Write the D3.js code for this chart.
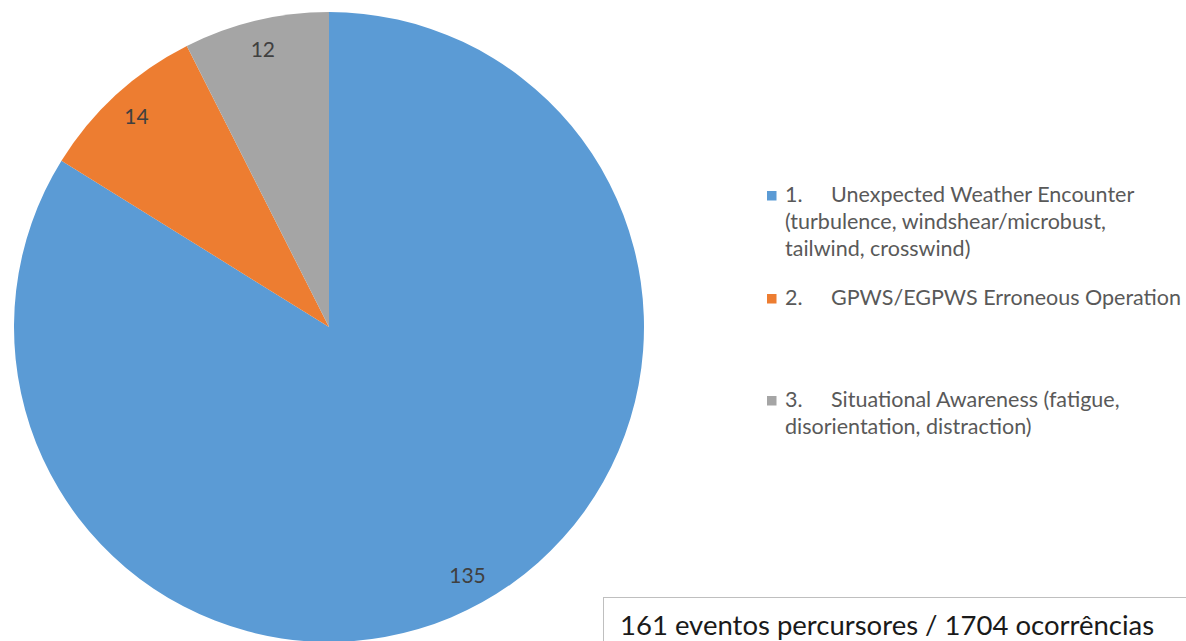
<!DOCTYPE html>
<html>
<head>
<meta charset="utf-8">
<script src="https://cdn.jsdelivr.net/npm/d3@7"></script>
<style>
  body { margin: 0; background: #fff; }
  svg { display: block; font-family: Lato, "Liberation Sans", sans-serif; }
</style>
</head>
<body>
<svg width="1186" height="641"></svg>
<script>
// slice data, clockwise from 12 o'clock
const categories = ["1.", "2.", "3."];
const values = [135, 14, 12];
const colors = ["#5B9BD5", "#ED7D31", "#A5A5A5"];
// legend text, one array of lines per entry
const legendLines = [
  ["Unexpected Weather Encounter", "(turbulence, windshear/microbust,", "tailwind, crosswind)"],
  ["GPWS/EGPWS Erroneous Operation"],
  ["Situational Awareness (fatigue,", "disorientation, distraction)"]
];
const noteText = "161 eventos percursores / 1704 ocorrências";

const svg = d3.select("svg");
const cx = 329, cy = 327, radius = 315;

const pie = d3.pie().sort(null).value(d => d);
const arcs = pie(values);

const arc = d3.arc().innerRadius(0).outerRadius(radius);
const labelArc = d3.arc().innerRadius(285).outerRadius(285);

const chart = svg.append("g")
  .attr("transform", `translate(${cx}, ${cy})`);

chart.selectAll("path")
  .data(arcs)
  .enter()
  .append("path")
  .attr("d", arc)
  .attr("fill", (d, i) => colors[i]);

chart.selectAll("text.label")
  .data(arcs)
  .enter()
  .append("text")
  .attr("class", "label")
  .attr("transform", d => `translate(${labelArc.centroid(d)})`)
  .attr("text-anchor", "middle")
  .attr("dy", "0.35em")
  .attr("fill", "#404040")
  .style("font-size", "21px")
  .text(d => d.data);

// legend
const legendY = [202, 305, 407];
const lineGap = 27;
const legend = svg.append("g");

legendLines.forEach((lines, i) => {
  legend.append("rect")
    .attr("x", 767)
    .attr("y", legendY[i] - 11)
    .attr("width", 9.5)
    .attr("height", 9.5)
    .attr("fill", colors[i]);
  const t = legend.append("text")
    .attr("fill", "#595959")
    .style("font-size", "21.5px");
  t.append("tspan")
    .attr("x", 785)
    .attr("y", legendY[i])
    .text(categories[i]);
  lines.forEach((line, j) => {
    t.append("tspan")
      .attr("x", j === 0 ? 831 : 785)
      .attr("y", legendY[i] + j * lineGap)
      .text(line);
  });
});

// note box
svg.append("rect")
  .attr("x", 603.5)
  .attr("y", 597.5)
  .attr("width", 600)
  .attr("height", 60)
  .attr("fill", "#fff")
  .attr("stroke", "#bfbfbf")
  .attr("stroke-width", 1);

svg.append("text")
  .attr("x", 620)
  .attr("y", 635)
  .attr("fill", "#1a1a1a")
  .style("font-size", "27.5px")
  .text(noteText);
</script>
</body>
</html>
